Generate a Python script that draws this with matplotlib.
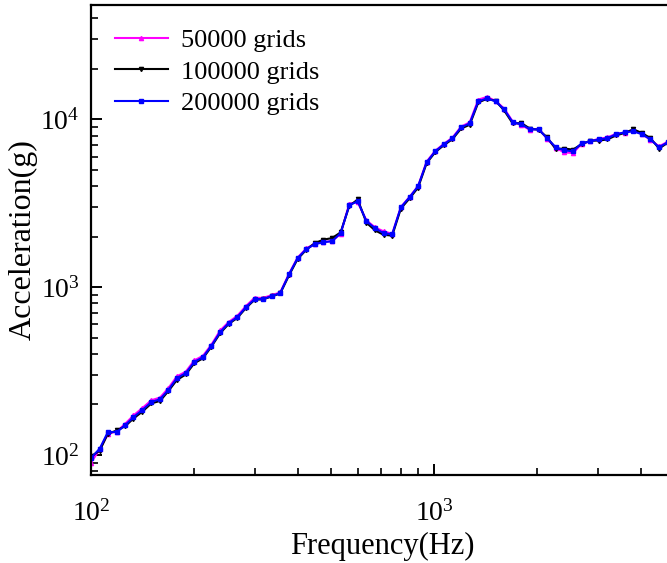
import numpy as np
import matplotlib.pyplot as plt

plt.rcParams['font.family'] = ['Liberation Serif', 'DejaVu Serif']
plt.rcParams['mathtext.fontset'] = 'stix'

# 1/12-octave centre frequencies (Hz)
freq = [100, 106, 112, 119, 126, 133, 141, 150, 159, 168, 178, 189,
        200, 212, 224, 238, 252, 267, 283, 300, 317, 336, 356, 378,
        400, 424, 449, 476, 504, 534, 566, 599, 635, 673, 713, 755,
        800, 848, 898, 951, 1008, 1068, 1131, 1199, 1270, 1345, 1425, 1510,
        1600, 1695, 1796, 1903, 2016, 2136, 2263, 2397, 2540, 2691, 2851, 3020,
        3200, 3390, 3592, 3805, 4032, 4271, 4525, 4794, 5080]

# acceleration response (g) for each mesh
acc_200k = [96, 109, 137, 137, 151, 168, 185, 207, 215, 244, 287, 308,
            358, 383, 445, 540, 611, 663, 760, 849, 849, 884, 921, 1195,
            1488, 1684, 1803, 1853, 1879, 2096, 3077, 3250, 2471, 2245, 2096, 2067,
            2993, 3433, 3993, 5546, 6452, 7100, 7710, 8960, 9460, 12800, 13330, 12800,
            11470, 9600, 9340, 8720, 8720, 7710, 6810, 6530, 6450, 7200, 7390, 7600,
            7710, 8150, 8370, 8490, 8150, 7600, 6810, 7300, 7700]

acc_100k = [98, 106, 134, 140, 149, 165, 181, 203, 210, 240, 280, 302,
            352, 377, 440, 532, 604, 656, 752, 842, 846, 880, 917, 1180,
            1470, 1670, 1830, 1920, 1960, 2120, 3050, 3330, 2420, 2180, 2050, 2030,
            2940, 3380, 3920, 5480, 6380, 7020, 7620, 8820, 9280, 12600, 13250, 12900,
            11300, 9450, 9500, 8800, 8660, 7800, 6650, 6700, 6600, 7120, 7450, 7480,
            7590, 8020, 8300, 8720, 8300, 7720, 6700, 7250, 7650]

acc_50k = [90, 108, 134, 138, 154, 172, 190, 212, 220, 250, 294, 314,
           366, 390, 452, 552, 620, 675, 772, 866, 862, 896, 930, 1205,
           1500, 1700, 1815, 1860, 1880, 2080, 3150, 3200, 2500, 2270, 2150, 2080,
           3000, 3450, 4000, 5600, 6500, 7150, 7780, 9050, 9600, 13100, 13600, 12900,
           11600, 9700, 9250, 8650, 8800, 7650, 6750, 6350, 6300, 7150, 7420, 7650,
           7800, 8200, 8320, 8600, 8200, 7550, 6900, 7350, 7750]

fig = plt.figure(figsize=(6.67, 5.63), dpi=100)
ax = fig.add_axes([0.1364, 0.1563, 0.874, 0.8348])

ax.plot(freq, acc_50k, color='#ff00ff', lw=1.5, marker='^', ms=3, label='50000 grids')
ax.plot(freq, acc_100k, color='black', lw=1.5, marker='v', ms=3, label='100000 grids')
ax.plot(freq, acc_200k, color='#0000ff', lw=1.5, marker='s', ms=2.5, label='200000 grids')

ax.set_xscale('log')
ax.set_yscale('log')
ax.set_xlim(100, 5000)
ax.set_ylim(76, 48000)

for s in ax.spines.values():
    s.set_linewidth(1.6)

ax.tick_params(which='major', direction='in', length=8, width=1.4, labelsize=20)
ax.tick_params(which='minor', direction='in', length=5, width=1.2)
ax.tick_params(axis='x', which='both', pad=18)
ax.tick_params(axis='y', which='both', pad=8)

ax.set_xlabel('Frequency(Hz)', fontsize=22, labelpad=4)
ax.set_ylabel('Acceleration(g)', fontsize=23, labelpad=2)

ax.legend(loc='upper left', frameon=False, fontsize=19, handlelength=2.0,
          handletextpad=0.5, labelspacing=0.3, borderaxespad=0.5,
          bbox_to_anchor=(0.0, 1.0))

fig.savefig('out.png', dpi=100)
